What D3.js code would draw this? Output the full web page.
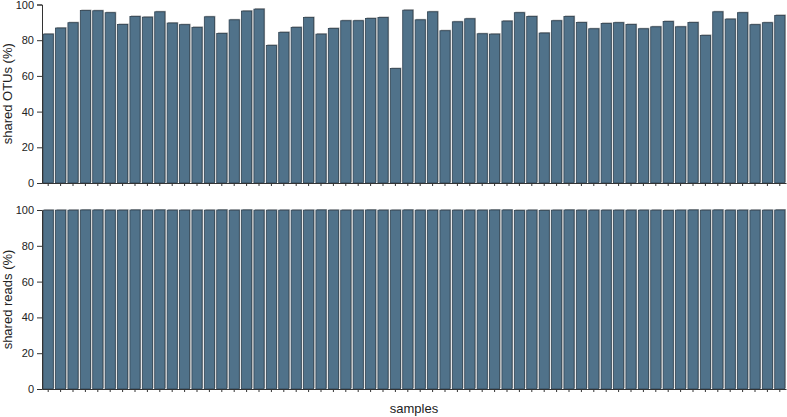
<!DOCTYPE html>
<html>
<head>
<meta charset="utf-8">
<script src="https://cdn.jsdelivr.net/npm/d3@7"></script>
<style>
  body { margin: 0; background: #fff; }
  text { font-family: "Liberation Sans", Arial, sans-serif; fill: #222; }
</style>
</head>
<body>
<script>
// one bar per sample, 60 samples
const samples = d3.range(1, 61).map(i => "S" + i);

const sharedOTUs = [
  83.4, 86.8, 89.8, 96.6, 96.5, 95.4, 88.8, 93.3, 92.9, 95.9,
  89.6, 88.7, 87.2, 93.1, 83.8, 91.4, 96.3, 97.4, 77.1, 84.4,
  87.2, 92.7, 83.4, 86.6, 90.9, 90.9, 92.2, 92.7, 64.1, 96.8,
  91.4, 95.9, 85.3, 90.3, 92.0, 83.6, 83.4, 90.7, 95.4, 93.3,
  84.0, 90.9, 93.3, 89.9, 86.4, 89.4, 89.8, 88.8, 86.4, 87.5,
  90.5, 87.5, 89.9, 82.7, 95.9, 91.8, 95.4, 88.7, 89.8, 93.9
];

const sharedReads = [
  99.9, 99.9, 99.9, 100, 100, 99.9, 99.9, 100, 99.9, 100,
  99.9, 99.9, 99.9, 99.9, 100, 99.9, 100, 99.9, 99.9, 99.9,
  99.9, 99.9, 100, 99.9, 99.9, 99.9, 100, 99.9, 99.9, 100,
  99.9, 99.9, 99.9, 99.9, 99.9, 99.9, 100, 100, 99.8, 99.9,
  99.8, 99.9, 100, 99.9, 99.9, 99.9, 99.9, 99.9, 99.9, 99.9,
  99.8, 99.9, 100, 99.9, 100, 99.9, 99.9, 99.9, 99.9, 100
];

const yTicks = [0, 20, 40, 60, 80, 100];

const W = 787, H = 417;
const left = 42, right = 786;

const svg = d3.select("body")
    .append("svg")
    .attr("width", W)
    .attr("height", H);

const x = d3.scaleBand()
    .domain(samples)
    .range([left, right])
    .paddingInner(0.18)
    .paddingOuter(0.09);

function panel(values, top, bottom, label) {
    const y = d3.scaleLinear().domain([0, 100]).range([bottom, top]);
    const g = svg.append("g");

    // gray shadow behind each bar
    g.selectAll(".shadow")
        .data(values)
        .enter()
        .append("rect")
        .attr("x", (d, i) => x(samples[i]) + 1)
        .attr("y", d => y(d) - 1)
        .attr("width", x.bandwidth())
        .attr("height", d => bottom - y(d))
        .attr("fill", "#a8a8a8");

    g.selectAll(".bar")
        .data(values)
        .enter()
        .append("rect")
        .attr("x", (d, i) => x(samples[i]))
        .attr("y", d => y(d))
        .attr("width", x.bandwidth())
        .attr("height", d => bottom - y(d))
        .attr("fill", "#50728a")
        .attr("stroke", "#2e4150")
        .attr("stroke-width", 0.8);

    // y axis with minor ticks
    const ya = svg.append("g").attr("transform", `translate(${left},0)`);
    ya.call(d3.axisLeft(y).tickValues(d3.range(0, 101, 10)).tickSize(3).tickFormat(""))
        .call(a => a.select(".domain").remove());
    ya.call(d3.axisLeft(y).tickValues(yTicks).tickSize(5).tickPadding(3))
        .call(a => a.select(".domain").attr("stroke", "#333"));
    ya.selectAll("line").attr("stroke", "#333");
    ya.selectAll("text").style("font-size", "11px").attr("fill", "#222");

    // x axis
    const xa = svg.append("g").attr("transform", `translate(0,${bottom})`);
    xa.call(d3.axisBottom(x).tickSize(3).tickFormat("").tickSizeOuter(0));
    xa.select(".domain").attr("stroke", "#333").attr("stroke-width", 1.2);
    xa.selectAll("line").attr("stroke", "#333");

    svg.append("text")
        .attr("transform", `translate(12,${(top + bottom) / 2}) rotate(-90)`)
        .attr("text-anchor", "middle")
        .style("font-size", "13px")
        .text(label);
}

panel(sharedOTUs, 4.5, 183, "shared OTUs (%)");
panel(sharedReads, 210, 389, "shared reads (%)");

svg.append("text")
    .attr("x", (left + right) / 2)
    .attr("y", 413)
    .attr("text-anchor", "middle")
    .style("font-size", "13px")
    .text("samples");
</script>
</body>
</html>
